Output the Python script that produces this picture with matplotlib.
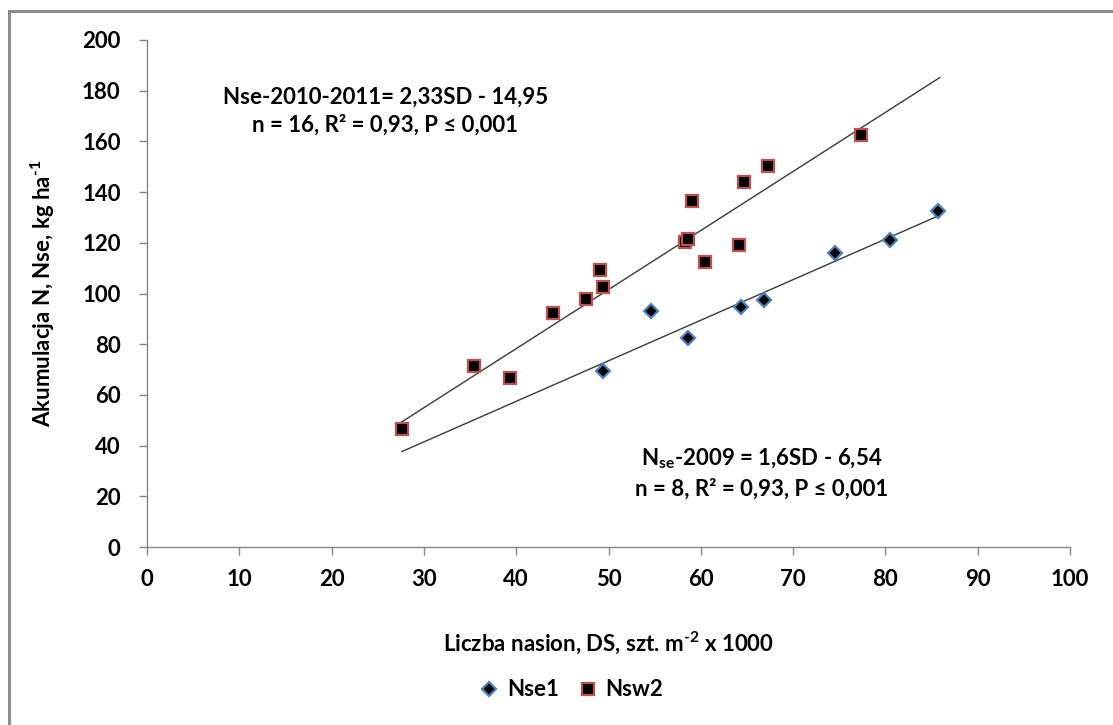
import numpy as np
import matplotlib
matplotlib.use('Agg')
import matplotlib.pyplot as plt
from matplotlib.patches import Rectangle

# dane
nse1_x = [49.4, 54.6, 58.6, 64.4, 66.8, 74.5, 80.5, 85.7]
nse1_y = [69.4, 93.1, 82.4, 94.7, 97.4, 116.0, 121.1, 132.5]

nsw2_x = [27.6, 35.4, 39.3, 44.0, 47.6, 49.1, 49.4, 58.3, 58.6, 59.0, 60.5, 64.1, 64.7, 67.3, 77.4]
nsw2_y = [46.5, 71.4, 66.7, 92.3, 97.8, 109.3, 102.6, 120.2, 121.6, 136.5, 112.4, 119.1, 144.0, 150.3, 162.5]

# linie trendu (z równań na wykresie)
trend_x = [27.6, 85.9]
a_2010, b_2010 = 2.33, -14.95
a_2009, b_2009 = 1.6, -6.54

x_ticks = list(range(0, 101, 10))
y_ticks = list(range(0, 201, 20))

plt.rcParams['font.family'] = ['Lato', 'DejaVu Sans']
plt.rcParams['font.weight'] = 'bold'
plt.rcParams['axes.labelweight'] = 'bold'
plt.rcParams['mathtext.fontset'] = 'custom'
plt.rcParams['mathtext.rm'] = 'Lato:bold'
plt.rcParams['mathtext.it'] = 'Lato:bold'
plt.rcParams['mathtext.bf'] = 'Lato:bold'
plt.rcParams['mathtext.default'] = 'rm'

szary = '#868686'

fig = plt.figure(figsize=(11.13, 7.25), dpi=100)
ax = fig.add_axes([147/1113, 1 - 547/725, (1070 - 147)/1113, (547 - 40)/725])

# ramka wykresu
fig.patches.append(Rectangle((9/1113, -0.05), 1.1, 1 - 11/725 + 0.05, transform=fig.transFigure,
                             fill=False, edgecolor='#8c8c8c', linewidth=2.2))

tx = np.array(trend_x)
ax.plot(tx, a_2010 * tx + b_2010, color='#3a3a3a', linewidth=1.0)
ax.plot(tx, a_2009 * tx + b_2009, color='#3a3a3a', linewidth=1.0)

ax.plot(nse1_x, nse1_y, linestyle='none', marker='D', markersize=7.5,
        markerfacecolor='black', markeredgecolor='#4F81BD', markeredgewidth=1.6, label='Nse1')
ax.plot(nsw2_x, nsw2_y, linestyle='none', marker='s', markersize=9,
        markerfacecolor='black', markeredgecolor='#C0504D', markeredgewidth=1.6, label='Nsw2')

ax.set_xlim(0, 100)
ax.set_ylim(0, 200)
ax.set_xticks(x_ticks)
ax.set_yticks(y_ticks)
ax.tick_params(labelsize=16, color=szary, length=6, width=1)
ax.tick_params(axis='y', pad=13)
ax.tick_params(axis='x', pad=10)
for lab in ax.get_xticklabels() + ax.get_yticklabels():
    lab.set_fontweight('bold')
for s in ['top', 'right']:
    ax.spines[s].set_visible(False)
for s in ['left', 'bottom']:
    ax.spines[s].set_color(szary)
    ax.spines[s].set_linewidth(1)

ax.set_xlabel(r'Liczba nasion, DS, szt. m$^{\text{-}2}$ x 1000', fontsize=16, fontweight='bold', labelpad=28)
ax.set_ylabel(r'Akumulacja N, Nse, kg ha$^{\text{-}1}$', fontsize=16, fontweight='bold', labelpad=18)

ax.text(25.8, 172, 'Nse-2010-2011= 2,33SD - 14,95\nn = 16, R² = 0,93, P ≤ 0,001',
        fontsize=16, fontweight='bold', ha='center', va='center', linespacing=1.4)
ax.text(66.6, 29, 'N$_{se}$-2009 = 1,6SD - 6,54\nn = 8, R² = 0,93, P ≤ 0,001',
        fontsize=16, fontweight='bold', ha='center', va='center', linespacing=1.4)

fig.legend(loc='center', bbox_to_anchor=(572/1113, 1 - 690/725), ncol=2, frameon=False,
           prop={'size': 16, 'weight': 'bold'}, handlelength=0.8, handletextpad=0.4,
           columnspacing=0.9)

fig.savefig('out.png', dpi=100)
